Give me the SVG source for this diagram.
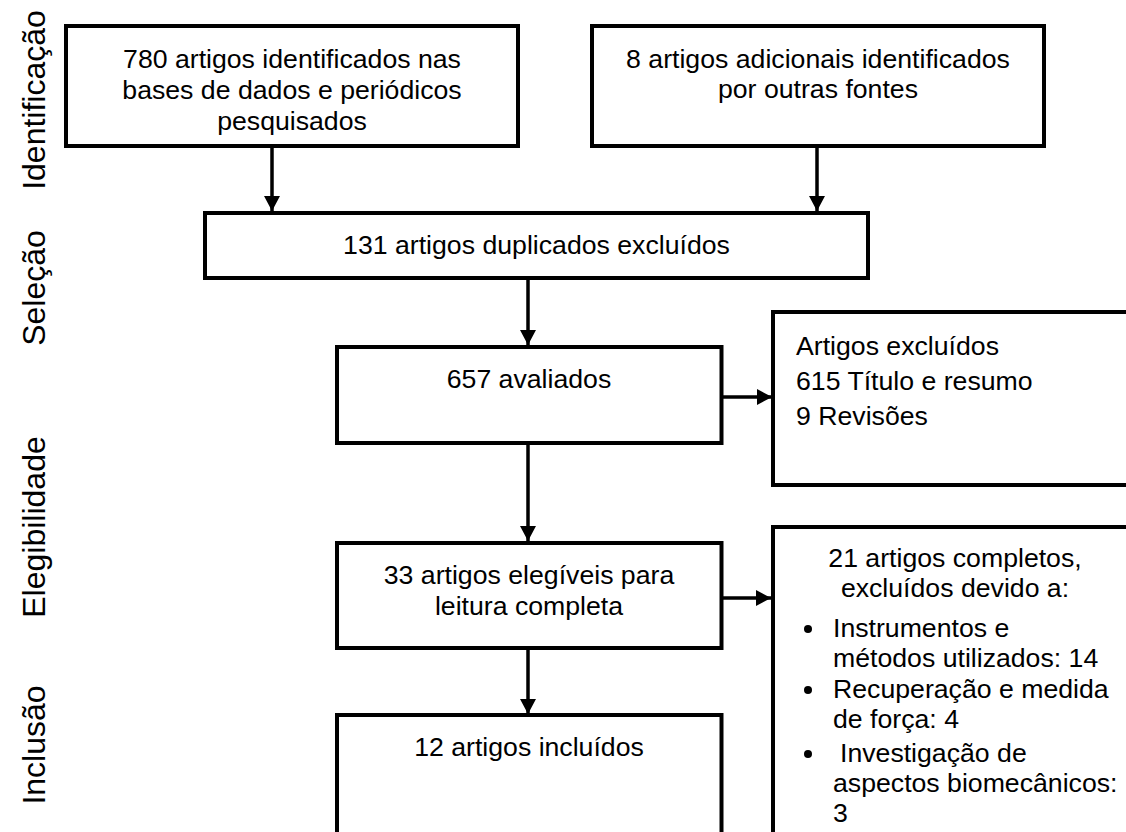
<svg xmlns="http://www.w3.org/2000/svg" width="1126" height="832" viewBox="0 0 1126 832">
<style>
.box{fill:#fff;stroke:#000;stroke-width:4}
.t{font-family:"Liberation Sans",Arial,sans-serif;font-size:26.67px;fill:#000}
.c{text-anchor:middle}
.side{font-family:"Liberation Sans",Arial,sans-serif;font-size:32px;fill:#000;text-anchor:middle}
.ln{stroke:#000;stroke-width:3.5;fill:none}
</style>
<defs>
<marker id="ah" markerUnits="userSpaceOnUse" markerWidth="16" markerHeight="16" refX="15" refY="8" orient="auto">
<path d="M0,0 L15,8 L0,16 Z" fill="#000"/>
</marker>
</defs>
<rect width="1126" height="832" fill="#fff"/>
<g id="labels">
<text class="side" transform="translate(45,100) rotate(-90)">Identificação</text>
<text class="side" transform="translate(45,288) rotate(-90)">Seleção</text>
<text class="side" transform="translate(45,527) rotate(-90)">Elegibilidade</text>
<text class="side" transform="translate(45,745) rotate(-90)">Inclusão</text>
</g>
<g id="connectors">
<line class="ln" x1="272" y1="148" x2="272" y2="211" marker-end="url(#ah)"/>
<line class="ln" x1="817" y1="148" x2="817" y2="211" marker-end="url(#ah)"/>
<line class="ln" x1="528" y1="280" x2="528" y2="345" marker-end="url(#ah)"/>
<line class="ln" x1="723" y1="397" x2="772" y2="397" marker-end="url(#ah)"/>
<line class="ln" x1="528" y1="445" x2="528" y2="541" marker-end="url(#ah)"/>
<line class="ln" x1="723" y1="598" x2="771" y2="598" marker-end="url(#ah)"/>
<line class="ln" x1="528" y1="650" x2="528" y2="714" marker-end="url(#ah)"/>
</g>
<g id="n1">
<rect class="box" x="66" y="26" width="452" height="120"/>
<text class="t c" x="292" y="68">780 artigos identificados nas</text>
<text class="t c" x="292" y="99">bases de dados e periódicos</text>
<text class="t c" x="292" y="130">pesquisados</text>
</g>
<g id="n2">
<rect class="box" x="592" y="26" width="452" height="120"/>
<text class="t c" x="818" y="68">8 artigos adicionais identificados</text>
<text class="t c" x="818" y="98">por outras fontes</text>
</g>
<g id="n3">
<rect class="box" x="205" y="213" width="663" height="65"/>
<text class="t c" x="536.5" y="254">131 artigos duplicados excluídos</text>
</g>
<g id="n4">
<rect class="box" x="337" y="347" width="384.5" height="96"/>
<text class="t c" x="529" y="388">657 avaliados</text>
</g>
<g id="n5">
<rect class="box" x="773" y="312" width="400" height="173"/>
<text class="t" x="796" y="355">Artigos excluídos</text>
<text class="t" x="796" y="390">615 Título e resumo</text>
<text class="t" x="796" y="425">9 Revisões</text>
</g>
<g id="n6">
<rect class="box" x="337" y="543" width="384.5" height="105"/>
<text class="t c" x="529" y="584">33 artigos elegíveis para</text>
<text class="t c" x="529" y="615">leitura completa</text>
</g>
<g id="n7">
<rect class="box" x="337" y="715" width="384.5" height="150"/>
<text class="t c" x="529" y="756">12 artigos incluídos</text>
</g>
<g id="n8">
<rect class="box" x="773" y="527" width="400" height="350"/>
<text class="t c" x="955" y="567">21 artigos completos,</text>
<text class="t c" x="955" y="597">excluídos devido a:</text>
<circle cx="808" cy="629" r="4"/>
<text class="t" x="833" y="637">Instrumentos e</text>
<text class="t" x="833" y="667">métodos utilizados: 14</text>
<circle cx="808" cy="690" r="4"/>
<text class="t" x="833" y="698">Recuperação e medida</text>
<text class="t" x="833" y="728">de força: 4</text>
<circle cx="808" cy="754" r="4"/>
<text class="t" x="840" y="762">Investigação de</text>
<text class="t" x="833" y="792">aspectos biomecânicos:</text>
<text class="t" x="833" y="822">3</text>
</g>
</svg>
